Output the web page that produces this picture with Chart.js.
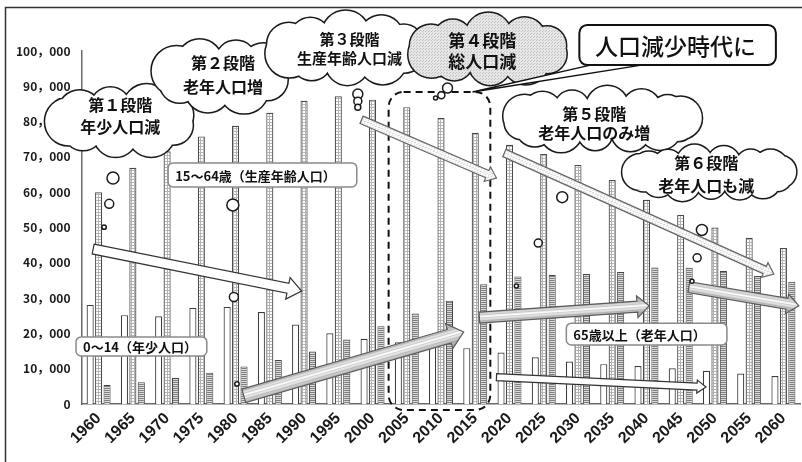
<!DOCTYPE html>
<html lang="ja">
<head>
<meta charset="utf-8">
<title>年齢3区分別人口の推移</title>
<script src="https://cdn.jsdelivr.net/npm/chart.js@4.4.1/dist/chart.umd.min.js"></script>
<style>
  html, body { margin: 0; padding: 0; background: #fff; }
  #wrap { width: 802px; height: 462px; }
</style>
</head>
<body>
<div id="wrap"><canvas id="popChart" width="802" height="462"></canvas></div>
<script>
'use strict';
// 年齢3区分別人口（千人）
let years = ['1960', '1965', '1970', '1975', '1980', '1985', '1990', '1995', '2000', '2005', '2010',
  '2015', '2020', '2025', '2030', '2035', '2040', '2045', '2050', '2055', '2060'];
let young = [28067, 25166, 24823, 27221, 27507, 26033, 22486, 20014, 18472, 17521, 16803,
  15827, 14568, 13240, 12039, 11287, 10732, 10116, 9387, 8614, 7912];
let working = [60002, 66928, 71566, 75807, 78835, 82506, 85904, 87165, 86220, 84092, 81032,
  76818, 73408, 70845, 67730, 63430, 57866, 53531, 50013, 47063, 44183];
let elderly = [5350, 6181, 7331, 8865, 10647, 12468, 14895, 18261, 22005, 25672, 29246,
  33952, 36124, 36573, 36849, 37407, 38678, 38564, 37676, 36257, 34642];
let yMax = 100000;
let yStep = 10000;

// 段階の吹き出し（位置は x=年の番号, y=千人）
let stages = [
  { at: [0.69, 80.2], w: 150, h: 72, lines: ['第１段階', '年少人口減'], size: 16, tx: -2, ty: -5, gap: 22,
    tail: [[0.42, 64.0, 6], [0.31, 56.7, 4.5], [0.16, 50.1, 2.2]] },
  { at: [3.60, 93.1], w: 140, h: 75, lines: ['第２段階', '老年人口増'], size: 16, tx: 1, ty: 0, gap: 24,
    tail: [[3.92, 56.4, 6], [3.95, 30.3, 4.5], [4.04, 5.7, 2.2]] },
  { at: [7.24, 100.6], w: 164, h: 72, lines: ['第３段階', '生産年齢人口減'], size: 15, tx: 3, ty: 0, gap: 19,
    tail: [[7.57, 87.8, 5], [7.57, 85.8, 4], [7.57, 84.1, 3]] },
  { at: [11.41, 100.3], w: 164, h: 70, lines: ['第４段階', '総人口減'], size: 17, tx: -7, ty: 1, gap: 21,
    tail: [[10.19, 89.5, 5], [10.01, 87.5, 3.5], [9.84, 86.7, 2]], shaded: true },
  { at: [14.68, 80.5], w: 199, h: 64, lines: ['第５段階', '老年人口のみ増'], size: 16, tx: -7, ty: 4, gap: 19,
    tail: [[13.54, 58.6, 5.5], [12.84, 45.6, 4], [12.2, 33.4, 2]] },
  { at: [17.86, 65.4], w: 173, h: 54, lines: ['第６段階', '老年人口も減'], size: 16, tx: -4, ty: 1, gap: 23,
    tail: [[17.62, 49.3, 5.5], [17.48, 41.4, 4], [17.33, 34.8, 2]] }
];

// 推移の矢印
let arrows = [
  { from: [-0.16, 43.9], to: [5.93, 32.0], shaft: 10, head: 22, len: 14, fill: 'hollow' },
  { from: [4.24, 2.3], to: [10.66, 20.4], shaft: 14, head: 26, len: 15, fill: 'stripes' },
  { from: [7.68, 80.5], to: [11.62, 64.0], shaft: 8, head: 16, len: 10, fill: 'dots' },
  { from: [11.12, 24.5], to: [16.08, 27.8], shaft: 11, head: 22, len: 12, fill: 'stripes' },
  { from: [11.85, 71.1], to: [19.72, 36.8], shaft: 8, head: 16, len: 10, fill: 'dots' },
  { from: [17.24, 33.1], to: [20.45, 27.8], shaft: 11, head: 20, len: 12, fill: 'stripes' },
  { from: [11.62, 7.6], to: [17.74, 4.8], shaft: 7, head: 13, len: 9, fill: 'hollow' }
];

// 系列名のラベル
let seriesBoxes = [
  { text: '0～14（年少人口）', from: [-0.66, 19.0], to: [3.16, 13.6] },
  { text: '15～64歳（生産年齢人口）', from: [2.03, 68.3], to: [7.54, 61.5] },
  { text: '65歳以上（老年人口）', from: [13.66, 22.9], to: [18.35, 16.7] }
];

let canvas = document.getElementById('popChart');
let ctx = canvas.getContext('2d');
const JP = '"Noto Sans CJK JP", "Noto Sans", sans-serif';

function makePattern(w, h, paint) {
  let c = document.createElement('canvas');
  c.width = w;
  c.height = h;
  paint(c.getContext('2d'));
  return ctx.createPattern(c, 'repeat');
}

// はしご模様（生産年齢人口）
let ladder = makePattern(3, 3, function (g) {
  g.fillStyle = '#b4b4b4';
  g.fillRect(0, 0, 3, 3);
  g.fillStyle = '#fff';
  g.fillRect(0, 0, 2, 2);
});
// 横線（老年人口）
let lines = makePattern(2, 2, function (g) {
  g.fillStyle = '#dcdcdc';
  g.fillRect(0, 0, 2, 2);
  g.fillStyle = '#7e7e7e';
  g.fillRect(0, 0, 2, 1);
});
let thinLines = makePattern(2, 3, function (g) {
  g.fillStyle = 'rgba(90,90,90,0.22)';
  g.fillRect(0, 0, 2, 1);
});
let dots = makePattern(3, 3, function (g) {
  g.fillStyle = '#fff';
  g.fillRect(0, 0, 3, 3);
  g.fillStyle = '#c4c4c4';
  g.fillRect(0, 0, 1, 1);
  g.fillRect(1, 2, 1, 1);
});
let cloudShade = makePattern(3, 3, function (g) {
  g.fillStyle = '#e6e6e6';
  g.fillRect(0, 0, 3, 3);
  g.fillStyle = '#c0c0c0';
  g.fillRect(0, 0, 1, 1);
  g.fillRect(2, 1, 1, 1);
});

function roundRect(c, x, y, w, h, r) {
  c.beginPath();
  c.moveTo(x + r, y);
  c.lineTo(x + w - r, y);
  c.arcTo(x + w, y, x + w, y + r, r);
  c.lineTo(x + w, y + h - r);
  c.arcTo(x + w, y + h, x + w - r, y + h, r);
  c.lineTo(x + r, y + h);
  c.arcTo(x, y + h, x, y + h - r, r);
  c.lineTo(x, y + r);
  c.arcTo(x, y, x + r, y, r);
  c.closePath();
}

function drawCloud(c, cx, cy, w, h, fill) {
  let rb = h * 0.3;
  let ex = w / 2 - rb, ey = h / 2 - rb;
  let per = 2 * Math.PI * Math.sqrt((ex * ex + ey * ey) / 2);
  let n = Math.max(8, Math.round(per / (rb * 1.3)));
  let bumps = [];
  for (let k = 0; k < n; k++) {
    let a = 2 * Math.PI * k / n + 0.3;
    let r = rb * (0.9 + 0.2 * ((k * 5) % 3) / 2);
    bumps.push([cx + ex * Math.cos(a), cy + ey * Math.sin(a), r]);
  }
  let shape = function () {
    c.beginPath();
    c.ellipse(cx, cy, ex, ey, 0, 0, Math.PI * 2);
    for (let b of bumps) {
      c.moveTo(b[0] + b[2], b[1]);
      c.arc(b[0], b[1], b[2], 0, Math.PI * 2);
    }
  };
  c.lineWidth = 3;
  c.strokeStyle = '#1a1a1a';
  shape();
  c.stroke();
  c.fillStyle = fill;
  shape();
  c.fill('nonzero');
}

function drawArrow(c, a, b, o) {
  let dx = b[0] - a[0], dy = b[1] - a[1];
  let len = Math.hypot(dx, dy);
  let s = o.shaft / 2, h = o.head / 2, body = len - o.len;
  c.save();
  c.translate(a[0], a[1]);
  c.rotate(Math.atan2(dy, dx));
  c.beginPath();
  c.moveTo(0, -s);
  c.lineTo(body, -s);
  c.lineTo(body, -h);
  c.lineTo(len, 0);
  c.lineTo(body, h);
  c.lineTo(body, s);
  c.lineTo(0, s);
  c.closePath();
  if (o.fill === 'stripes') {
    let gr = c.createLinearGradient(0, -s, 0, s);
    gr.addColorStop(0, '#c0c0c0');
    gr.addColorStop(0.45, '#fdfdfd');
    gr.addColorStop(1, '#b2b2b2');
    c.fillStyle = gr;
    c.fill();
    c.fillStyle = thinLines;
    c.fill();
    c.strokeStyle = '#5a5a5a';
  } else if (o.fill === 'dots') {
    c.fillStyle = dots;
    c.fill();
    c.strokeStyle = '#666';
  } else {
    c.fillStyle = '#fff';
    c.fill();
    c.strokeStyle = '#333';
  }
  c.lineWidth = 1.2;
  c.stroke();
  c.restore();
}

let decorations = {
  id: 'decorations',
  afterDraw(chart) {
    let c = chart.ctx;
    let sx = chart.scales.x, sy = chart.scales.y;
    let P = function (p) {
      return [sx.getPixelForValue(p[0]), sy.getPixelForValue(p[1] * 1000)];
    };
    c.save();

    // 人口減少期を囲む破線
    let d1 = P([8.47, 88.4]), d2 = P([11.44, -1.7]);
    c.setLineDash([7, 5]);
    c.lineWidth = 2;
    c.strokeStyle = '#111';
    roundRect(c, d1[0], d1[1], d2[0] - d1[0], d2[1] - d1[1], 15);
    c.stroke();
    c.setLineDash([]);

    for (let ar of arrows) {
      drawArrow(c, P(ar.from), P(ar.to), ar);
    }

    for (let bx of seriesBoxes) {
      let p1 = P(bx.from), p2 = P(bx.to);
      c.fillStyle = '#fff';
      c.strokeStyle = '#8a8a8a';
      c.lineWidth = 1.5;
      roundRect(c, p1[0], p1[1], p2[0] - p1[0], p2[1] - p1[1], 5);
      c.fill();
      c.stroke();
      c.fillStyle = '#111';
      c.font = 'bold 13px ' + JP;
      c.textAlign = 'left';
      c.textBaseline = 'middle';
      c.fillText(bx.text, p1[0] + 7, (p1[1] + p2[1]) / 2 + 1);
    }

    for (let st of stages) {
      let p = P(st.at);
      for (let t of st.tail) {
        let q = P(t);
        c.beginPath();
        c.arc(q[0], q[1], t[2], 0, Math.PI * 2);
        c.fillStyle = '#fff';
        c.fill();
        c.lineWidth = 1.5;
        c.strokeStyle = '#1a1a1a';
        c.stroke();
      }
      drawCloud(c, p[0], p[1], st.w, st.h, st.shaded ? cloudShade : '#fff');
      c.fillStyle = '#111';
      c.font = 'bold ' + st.size + 'px ' + JP;
      c.textAlign = 'center';
      c.textBaseline = 'middle';
      let tx = p[0] + st.tx, ty = p[1] + st.ty;
      c.fillText(st.lines[0], tx, ty - st.gap / 2);
      c.fillText(st.lines[1], tx, ty + st.gap / 2);
    }

    // 「人口減少時代に」の吹き出し
    let b1 = P([14.04, 107.4]), b2 = P([19.78, 96.0]);
    let tip = P([10.92, 88.4]), t1 = P([14.62, 96.0]), t2 = P([16.22, 96.0]);
    c.beginPath();
    c.moveTo(t1[0], t1[1] - 2);
    c.lineTo(tip[0], tip[1]);
    c.lineTo(t2[0], t2[1] - 2);
    c.closePath();
    c.fillStyle = '#fff';
    c.fill();
    c.lineWidth = 1.5;
    c.strokeStyle = '#111';
    c.stroke();
    roundRect(c, b1[0], b1[1], b2[0] - b1[0], b2[1] - b1[1], 8);
    c.fill();
    c.lineWidth = 2;
    c.stroke();
    c.fillStyle = '#111';
    c.font = '500 23px ' + JP;
    c.textAlign = 'center';
    c.textBaseline = 'middle';
    c.fillText('人口減少時代に', (b1[0] + b2[0]) / 2 - 2, (b1[1] + b2[1]) / 2 + 1);

    // 外枠
    c.lineWidth = 1.5;
    c.strokeStyle = '#333';
    c.strokeRect(5.5, 7.5, 830, 480);
    c.restore();
  }
};

let background = {
  id: 'background',
  beforeDraw(chart) {
    chart.ctx.save();
    chart.ctx.fillStyle = '#fff';
    chart.ctx.fillRect(0, 0, chart.width, chart.height);
    chart.ctx.restore();
  }
};

new Chart(ctx, {
  type: 'bar',
  data: {
    labels: years,
    datasets: [
      { label: '0～14歳', data: young, backgroundColor: '#fff', borderColor: '#3c3c3c', borderWidth: 1.2 },
      { label: '15～64歳', data: working, backgroundColor: ladder, borderColor: '#4a4a4a', borderWidth: 1.2 },
      { label: '65歳以上', data: elderly, backgroundColor: lines, borderColor: '#444', borderWidth: 1 }
    ]
  },
  options: {
    responsive: false,
    animation: false,
    devicePixelRatio: 1,
    categoryPercentage: 0.74,
    barPercentage: 0.84,
    layout: { padding: { top: 51, right: 0.5, left: 0, bottom: 0 } },
    plugins: {
      legend: { display: false },
      tooltip: { enabled: false }
    },
    scales: {
      x: {
        grid: { display: false, drawTicks: false },
        border: { display: true, color: '#6a6a6a', width: 1.5 },
        ticks: {
          minRotation: 45,
          maxRotation: 45,
          padding: 5,
          color: '#1a1a1a',
          font: { family: '"Liberation Sans", Arial, sans-serif', size: 16, weight: 'bold' }
        },
        afterFit(scale) { scale.height = 58; }
      },
      y: {
        min: 0,
        max: yMax,
        grid: { display: false, drawTicks: false },
        border: { display: true, color: '#6a6a6a', width: 1.5 },
        ticks: {
          stepSize: yStep,
          padding: 11,
          color: '#1a1a1a',
          font: { family: JP, size: 12, weight: 'bold' },
          callback: function (v) {
            return String(v).replace(/\B(?=(\d{3})+(?!\d))/g, '，');
          }
        },
        afterFit(scale) { scale.width = 81.5; }
      }
    }
  },
  plugins: [background, decorations]
});
</script>
</body>
</html>
